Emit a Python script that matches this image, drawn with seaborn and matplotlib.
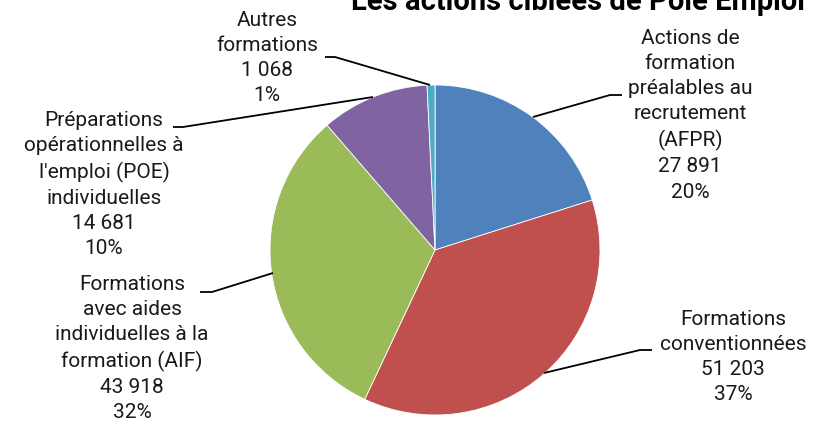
import matplotlib
matplotlib.use("Agg")
import matplotlib.pyplot as plt
import seaborn as sns

# Data
categories = [
    "Actions de\nformation\npréalables au\nrecrutement\n(AFPR)",
    "Formations\nconventionnées",
    "Formations\navec aides\nindividuelles à la\nformation (AIF)",
    "Préparations\nopérationnelles à\nl'emploi (POE)\nindividuelles",
    "Autres\nformations",
]
values = [27891, 51203, 43918, 14681, 1068]
percents = [20, 37, 32, 10, 1]
colors = ["#4F81BD", "#C0504D", "#9BBB59", "#8064A2", "#4BACC6"]
title = "Les actions ciblées de Pôle Emploi"

sns.set_theme(style="white")
plt.rcParams["font.family"] = ["Roboto", "DejaVu Sans"]


def fmt_num(v):
    return f"{v:,}".replace(",", " ")


def init():
    fig = plt.figure(figsize=(8.15, 4.22), dpi=100)
    ax = fig.add_axes([0, 0, 1, 1])
    return fig, ax


def pie_plot(fig, ax):
    # pie centred at pixel (435, 250) from top-left
    cx, cy, r = 435, 422 - 250, 165
    ax.pie(values, colors=colors, startangle=90, counterclock=False,
           center=(cx, cy), radius=r, frame=True,
           wedgeprops=dict(edgecolor="white", linewidth=0.6))
    ax.set_xlim(0, 815)
    ax.set_ylim(0, 422)
    ax.set_aspect("equal")
    ax.axis("off")

    # label centre x, first-line top y (px from top), leader: wedge point, elbow, end
    layout = [
        (690, 29, (533, 117), (610, 95), (622, 95)),
        (733, 310, (544, 373), (640, 350), (652, 350)),
        (132, 275, (273, 273), (212, 292), (200, 292)),
        (104, 111, (373, 97), (183, 127), (173, 127)),
        (267, 11, (430, 85), (335, 57), (325, 57)),
    ]
    for cat, v, pct, (lx, ly, p0, p1, p2) in zip(categories, values, percents, layout):
        txt = f"{cat}\n{fmt_num(v)}\n{pct}%"
        ax.text(lx, 422 - ly, txt, ha="center", va="top",
                fontsize=15, color="#1a1a1a", linespacing=1.41)
        ax.plot([p0[0], p1[0], p2[0]], [422 - p0[1], 422 - p1[1], 422 - p2[1]],
                color="black", linewidth=1.3, solid_capstyle="butt")

    # title is clipped at the top edge in the reference
    ax.text(578, 422 - 10, title, ha="center", va="baseline",
            fontsize=21, fontweight="bold", color="black")


fig, ax = init()
pie_plot(fig, ax)
fig.savefig("out.png", dpi=100)
